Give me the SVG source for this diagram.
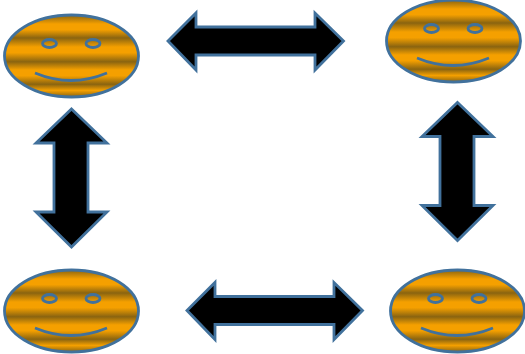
<svg xmlns="http://www.w3.org/2000/svg" width="525" height="354" viewBox="0 0 525 354">
<style>
.face{fill:url(#bands);stroke:#41719c;stroke-width:2.8}
.eye{fill:none;stroke:#41719c;stroke-width:2.8}
.smile{fill:none;stroke:#41719c;stroke-width:2.8}
.arrow{fill:#000;stroke:#41719c;stroke-width:2.8;stroke-miterlimit:8}
</style>
<defs>
<linearGradient id="bands" x1="0" y1="0" x2="0" y2="1">
<stop offset="0" stop-color="#8a6410"/>
<stop offset="0.11" stop-color="#f5a000"/>
<stop offset="0.18" stop-color="#f5a000"/>
<stop offset="0.28" stop-color="#8a6410"/>
<stop offset="0.39" stop-color="#f5a000"/>
<stop offset="0.46" stop-color="#f5a000"/>
<stop offset="0.57" stop-color="#8a6410"/>
<stop offset="0.67" stop-color="#f5a000"/>
<stop offset="0.74" stop-color="#f5a000"/>
<stop offset="0.845" stop-color="#8a6410"/>
<stop offset="0.92" stop-color="#f5a000"/>
<stop offset="1" stop-color="#8a6410"/>
</linearGradient>
<g id="smiley">
<ellipse class="face" cx="71.500" cy="56" rx="67" ry="41"/>
<ellipse class="eye" cx="49.500" cy="43.500" rx="7" ry="4"/>
<ellipse class="eye" cx="93" cy="43.500" rx="7" ry="4"/>
<path class="smile" d="M35 73Q71 88 107 73"/>
</g>
<path id="harrow" class="arrow" d="M168 41L196 13V27H315V13L343.500 41L315 70V55H196V70Z"/>
<path id="varrow" class="arrow" d="M71.500 109L107 143H88V212H107L71.500 247L36 212H54V143H36Z"/>
</defs>
<g id="connectors">
<use href="#harrow"/>
<use href="#harrow" x="19" y="269.500"/>
<use href="#varrow"/>
<use href="#varrow" x="386" y="-6.500"/>
</g>
<g id="face-top-left"><use href="#smiley"/></g>
<g id="face-top-right"><use href="#smiley" x="382" y="-15"/></g>
<g id="face-bottom-left"><use href="#smiley" y="255"/></g>
<g id="face-bottom-right"><use href="#smiley" x="386" y="255"/></g>
</svg>
